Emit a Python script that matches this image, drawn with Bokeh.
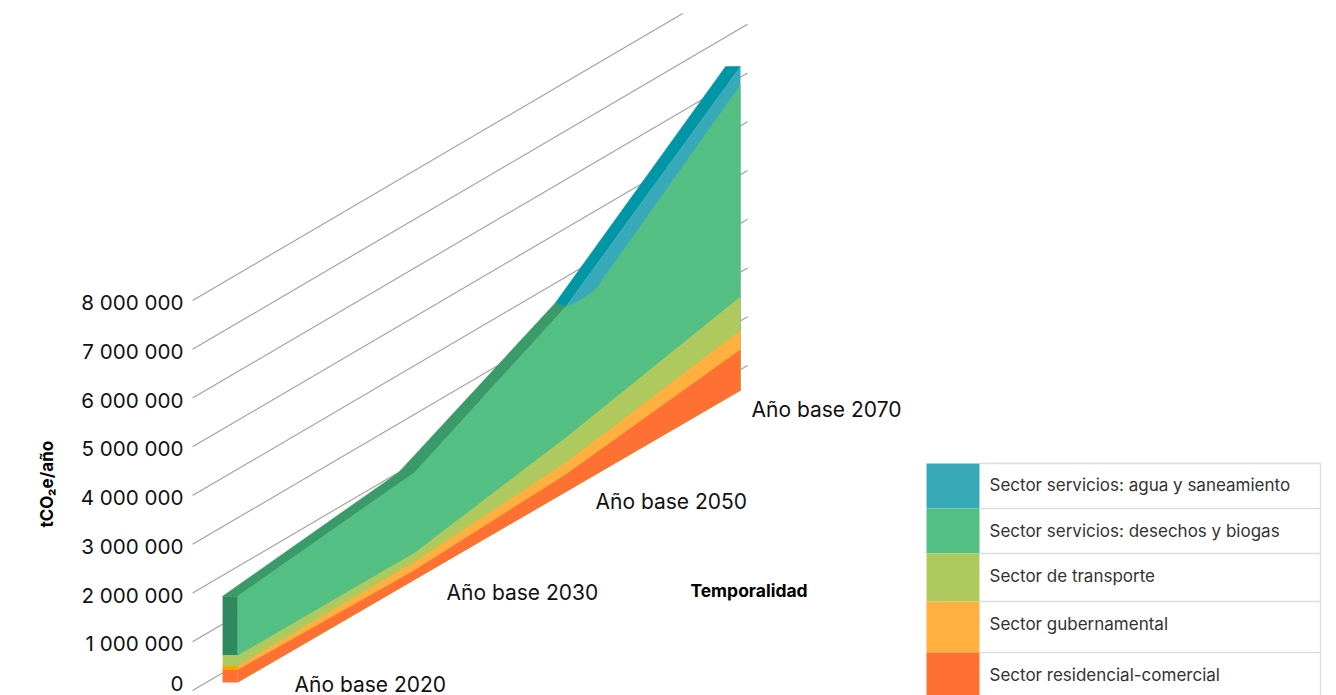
from bokeh.plotting import figure
from bokeh.models import FixedTicker, LinearAxis, Range1d, Title
from bokeh.core.properties import value
from bokeh.embed import file_html
from bokeh.resources import INLINE
import numpy as np

# Emissions per sector, tCO2e/year, for each reference year
years = ["Año base 2020", "Año base 2030", "Año base 2050", "Año base 2070"]
year_pos = [0.0, 1.056, 1.96, 3.0]
residencial = [256000, 195000, 359000, 841000]
gubernamental = [82000, 174000, 246000, 390000]
transporte = [215000, 185000, 513000, 697000]
desechos = [1216000, 1647000, 2687000, 4349000]
agua = [0, 0, 0, 369000]

# The waste band bulges just after 2050, where the water band appears
bend_pos = [2.016, 2.064, 2.105, 2.147, 2.195]
bend_total = [3766000, 3768000, 3780000, 3828000, 3980000]

# Offset of the rear edge of the 3D ribbon at each year
depth_pos = [-0.089, -0.095, -0.066, -0.089]
depth_val = [0, 0, 62000, 0]

names = ["Sector servicios: agua y saneamiento", "Sector servicios: desechos y biogas",
         "Sector de transporte", "Sector gubernamental", "Sector residencial-comercial"]
front_colors = ["#38A9B9", "#53BF82", "#AEC95E", "#FFB03F", "#FF7033"]
top_colors = ["#0096A6", "#3A9A68"]
side_colors = ["#2E8A5C", "#AEC95E", "#FFA407", "#FF7033"]

tick_values = [0, 1000000, 2000000, 3000000, 4000000, 5000000, 6000000, 7000000, 8000000]
tick_labels = {v: f"{v:,}".replace(",", " ") for v in tick_values}
FONT = "Inter"

# Canvas layout
W, H = 1336, 695
FRAME_LEFT = 186
PX_PER_POS = 167.67
PX_PER_T = 48.75 / 1e6
POS0_PX = 237
ZERO_PX = 692

p = figure(width=W, height=H, output_backend="svg", toolbar_location=None,
           x_range=Range1d((FRAME_LEFT - POS0_PX) / PX_PER_POS, (W - POS0_PX) / PX_PER_POS),
           y_range=Range1d((ZERO_PX - H) / PX_PER_T, ZERO_PX / PX_PER_T),
           x_axis_location=None, y_axis_location=None,
           min_border_left=FRAME_LEFT, min_border_right=0, min_border_top=0, min_border_bottom=0)
p.outline_line_color = None
p.grid.visible = False
p.background_fill_color = "#ffffff"

# Pixel-based ranges for the legend table and free labels
p.extra_x_ranges["px"] = Range1d(FRAME_LEFT, W)
p.extra_y_ranges["px"] = Range1d(H, 0)

axis = LinearAxis(ticker=FixedTicker(ticks=tick_values), major_label_overrides=tick_labels,
                  axis_line_color=None, major_tick_line_color=None, minor_tick_line_color=None,
                  major_tick_out=0, major_tick_in=0,
                  major_label_standoff=3, major_label_text_font=FONT,
                  major_label_text_font_size="20.6px", major_label_text_color="#111111")
p.add_layout(axis, "left")

# Vertical axis title, placed beside the lower half of the scale
p.add_layout(Title(text="tCO₂e/año", align="left", offset=168, standoff=41,
                   text_font=FONT, text_font_size="17px", text_font_style="bold",
                   text_color="#000000"), "left")

# Skewed floor of the 3D plane: values are lifted as the years advance
FLOOR0 = 205000
FLOOR_RISE = 1996600
GRID0 = 41000
GRID_RISE = 2014000
GRID_START, GRID_END = -0.268, 3.042
TOP_CLIP = (ZERO_PX - 13) / PX_PER_T


def lift(pos, val):
    return np.asarray(val, dtype=float) + FLOOR0 + FLOOR_RISE * np.asarray(pos, dtype=float)


# Grid lines run along the floor direction and stop at the top of the plot
gx0, gy0, gx1, gy1 = [], [], [], []
for t in tick_values:
    start = t + GRID0
    end_pos = min(GRID_END, GRID_START + (TOP_CLIP - start) / GRID_RISE)
    gx0.append(GRID_START)
    gy0.append(start)
    gx1.append(end_pos)
    gy1.append(start + GRID_RISE * (end_pos - GRID_START))
p.segment(gx0, gy0, gx1, gy1, line_color="#9e9e9e", line_width=1.1)

pos = np.array(year_pos)
cum_res = np.array(residencial, dtype=float)
cum_gov = cum_res + gubernamental
cum_tra = cum_gov + transporte
cum_des = cum_tra + desechos
cum_agu = cum_des + agua
floor = lift(pos, 0)

# Top faces of the ribbon, behind the front faces
dp = np.array(depth_pos)
dv = np.array(depth_val)
back_x = pos + dp
back_y = lift(pos, cum_agu) + dv
front_y = lift(pos, cum_agu)
p.patch(list(back_x[:3]) + list(pos[:3][::-1]), list(back_y[:3]) + list(front_y[:3][::-1]),
        fill_color=top_colors[1], line_color=top_colors[1], line_width=0.5)
p.patch(list(back_x[2:]) + list(pos[2:][::-1]), list(back_y[2:]) + list(front_y[2:][::-1]),
        fill_color=top_colors[0], line_color=top_colors[0], line_width=0.5)

# Front faces, painted from the top layer down so each covers the one above
full_x = list(pos) + list(pos[::-1])
p.patch(list(pos) + list(pos[::-1]), list(lift(pos, cum_agu)) + list(floor[::-1]),
        fill_color=front_colors[0], line_color=None)

des_x = np.concatenate([pos[:3], bend_pos, pos[3:]])
des_val = np.concatenate([cum_des[:3], bend_total, cum_des[3:]])
des_floor = lift(des_x, 0)
p.patch(list(des_x) + list(des_x[::-1]), list(lift(des_x, des_val)) + list(des_floor[::-1]),
        fill_color=front_colors[1], line_color=None)

for cum, color in zip([cum_tra, cum_gov, cum_res], front_colors[2:]):
    p.patch(full_x, list(lift(pos, cum)) + list(floor[::-1]), fill_color=color, line_color=None)

# Left end cap of the ribbon
levels = [cum_des[0], cum_tra[0], cum_gov[0], cum_res[0], 0.0]
x_back, x_front = pos[0] + dp[0], pos[0]
for i, color in enumerate(side_colors):
    hi, lo = levels[i], levels[i + 1]
    p.patch([x_back, x_front, x_front, x_back],
            [lift(pos[0], hi), lift(pos[0], hi), lift(pos[0], lo), lift(pos[0], lo)],
            fill_color=color, line_color=None)

# Year labels
p.text([294, 446, 595, 751], [683.5, 591.5, 500.5, 408.5], text=years,
       x_range_name="px", y_range_name="px", text_font=value(FONT), text_font_size="21px",
       text_color="#111111", text_baseline="middle", text_align="left")
p.text([748.5], [590], text=["Temporalidad"], x_range_name="px", y_range_name="px",
       text_font=value(FONT), text_font_size="17.5px", text_font_style="bold",
       text_color="#000000", text_baseline="middle", text_align="center")

# Legend table
row_edges = [463, 508, 553, 601, 652, 700]
LEG_L, LEG_SW, LEG_R = 926, 979, 1320
p.quad(left=[LEG_L] * 5, right=[LEG_SW] * 5, top=row_edges[:-1], bottom=row_edges[1:],
       fill_color=front_colors, line_color=None, x_range_name="px", y_range_name="px")
p.segment([LEG_SW] * 5, row_edges[:-1], [LEG_R] * 5, row_edges[:-1], line_color="#dddddd",
          line_width=1.3, x_range_name="px", y_range_name="px")
p.segment([LEG_R], [row_edges[0]], [LEG_R], [row_edges[-1]], line_color="#dddddd",
          line_width=1.3, x_range_name="px", y_range_name="px")
p.text([989] * 5, [484, 530, 575, 623, 674], text=names, x_range_name="px", y_range_name="px",
       text_font=value(FONT), text_font_size="17px", text_color="#333333",
       text_baseline="middle", text_align="left")

open("out.html", "w").write(file_html(p, INLINE))
